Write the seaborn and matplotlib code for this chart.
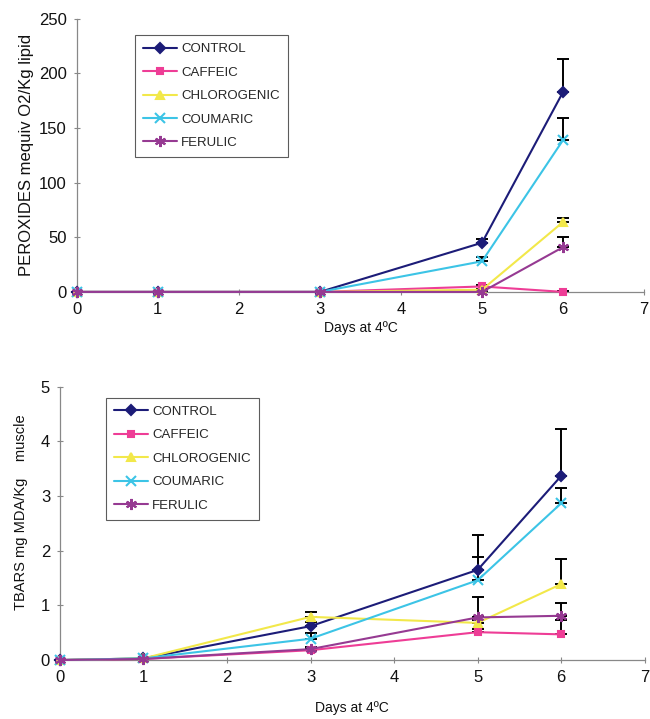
import matplotlib
matplotlib.use("Agg")
import matplotlib.pyplot as plt
import seaborn as sns
import pandas as pd

# data
days = [0, 1, 3, 5, 6]
series = ["CONTROL", "CAFFEIC", "CHLOROGENIC", "COUMARIC", "FERULIC"]

perox_control = [0, 0, 0, 45, 183]
perox_caffeic = [0, 0, 0, 5, 0]
perox_chlorogenic = [0, 0, 0, 2, 64]
perox_coumaric = [0, 0, 0, 28, 139]
perox_ferulic = [0, 0, 0, 0, 41]

perox_err_control = [0, 0, 0, 3, 30]
perox_err_caffeic = [0, 0, 0, 1, 1]
perox_err_chlorogenic = [0, 0, 0, 1, 4]
perox_err_coumaric = [0, 0, 0, 4, 20]
perox_err_ferulic = [0, 0, 0, 1, 9]

tbars_control = [0, 0.03, 0.62, 1.65, 3.37]
tbars_caffeic = [0, 0.02, 0.18, 0.51, 0.47]
tbars_chlorogenic = [0, 0.03, 0.79, 0.68, 1.39]
tbars_coumaric = [0, 0.03, 0.39, 1.46, 2.87]
tbars_ferulic = [0, 0.02, 0.20, 0.78, 0.81]

tbars_err_control = [0, 0, 0.08, 0.64, 0.86]
tbars_err_caffeic = [0, 0, 0.03, 0.05, 0.26]
tbars_err_chlorogenic = [0, 0, 0.09, 0.05, 0.46]
tbars_err_coumaric = [0, 0, 0.10, 0.42, 0.28]
tbars_err_ferulic = [0, 0, 0.03, 0.38, 0.23]

colors = ["#1c1c78", "#ee3d96", "#f2e84a", "#3cc4e6", "#963a92"]
markers = ["D", "s", "^", "x", (6, 2, 0)]
msizes = [5, 5, 6, 7, 8]

sns.set_theme(style="white")
plt.rcParams["font.family"] = ["Liberation Sans", "DejaVu Sans"]


def build(values, errs):
    rows = []
    for name, vals, ee in zip(series, values, errs):
        for d, v, e in zip(days, vals, ee):
            rows.append({"day": d, "value": v, "err": e, "group": name})
    return pd.DataFrame(rows)


df_top = build([perox_control, perox_caffeic, perox_chlorogenic, perox_coumaric, perox_ferulic],
               [perox_err_control, perox_err_caffeic, perox_err_chlorogenic, perox_err_coumaric, perox_err_ferulic])
df_bot = build([tbars_control, tbars_caffeic, tbars_chlorogenic, tbars_coumaric, tbars_ferulic],
               [tbars_err_control, tbars_err_caffeic, tbars_err_chlorogenic, tbars_err_coumaric, tbars_err_ferulic])


def draw(ax, df, ymax, ystep, ylabel, ysize, legend_anchor, xpad):
    for name, c, m, ms in zip(series, colors, markers, msizes):
        sub = df[df["group"] == name]
        ax.errorbar(sub["day"], sub["value"], yerr=[[0] * len(sub), sub["err"]],
                    fmt="none", ecolor="black", elinewidth=1.4, capsize=4.5, capthick=1.4, zorder=2)
        sns.lineplot(data=sub, x="day", y="value", ax=ax, color=c, marker=m,
                     markersize=ms, markeredgecolor=c, markeredgewidth=1.5,
                     linewidth=1.5, label=name, zorder=3)
    ax.set_xlim(0, 7)
    ax.set_ylim(0, ymax)
    ax.set_xticks(range(0, 8))
    ax.set_yticks([i * ystep for i in range(int(ymax / ystep) + 1)])
    ax.set_xlabel("Days at 4ºC", fontsize=10, labelpad=xpad, color="#111111")
    ax.set_ylabel(ylabel, fontsize=ysize, labelpad=4, color="#111111")
    ax.tick_params(axis="both", labelsize=12, length=4, width=0.8, color="#888888",
                   labelcolor="#111111", direction="inout", left=True, bottom=True, pad=5)
    for s in ["top", "right"]:
        ax.spines[s].set_visible(False)
    for s in ["left", "bottom"]:
        ax.spines[s].set_color("#888888")
        ax.spines[s].set_linewidth(0.9)
    leg = ax.legend(loc="upper left", bbox_to_anchor=legend_anchor, frameon=True,
                    fancybox=False, edgecolor="#333333", fontsize=9.5,
                    handlelength=2.6, handletextpad=0.3, borderpad=0.6,
                    labelspacing=0.85, borderaxespad=0)
    leg.get_frame().set_linewidth(0.8)
    for t in leg.get_texts():
        t.set_family(["Liberation Sans Narrow", "Liberation Sans", "DejaVu Sans"])


fig = plt.figure(figsize=(6.5, 7.19), dpi=100)
ax1 = fig.add_axes([0.118, 0.594, 0.873, 0.380])
ax2 = fig.add_axes([0.092, 0.082, 0.900, 0.380])

draw(ax1, df_top, 250, 50, "PEROXIDES mequiv O2/Kg lipid", 12, (0.103, 0.94), 3)
draw(ax2, df_bot, 5, 1, "TBARS mg MDA/Kg    muscle", 10.5, (0.079, 0.96), 12)
ax2.yaxis.set_label_coords(-0.055, 0.54)

for ax in (ax1, ax2):
    for line in ax.get_lines():
        line.set_clip_on(False)

fig.savefig("out.png", dpi=100)
